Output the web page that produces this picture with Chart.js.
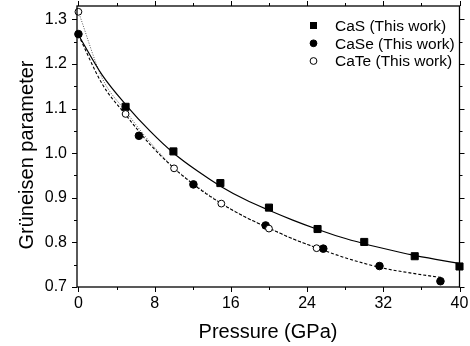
<!DOCTYPE html>
<html>
<head>
<meta charset="utf-8">
<script src="https://cdn.jsdelivr.net/npm/chart.js@4"></script>
<style>
  html, body { margin: 0; padding: 0; background: #fff; }
  canvas { display: block; }
</style>
</head>
<body>
<canvas id="chart" width="470" height="346"></canvas>
<script>
// measured points (pressure in GPa, Grüneisen parameter)
const casP = [4.95, 9.97, 14.9, 20.0, 25.1, 30.0, 35.3, 40.0];
const casG = [1.104, 1.004, 0.933, 0.878, 0.830, 0.801, 0.769, 0.746];
const caseP = [0, 6.35, 12.07, 19.65, 25.7, 31.6, 38.0];
const caseG = [1.267, 1.039, 0.930, 0.838, 0.786, 0.747, 0.713];
const cateP = [0, 4.95, 10.04, 15.0, 20.0, 25.0];
const cateG = [1.317, 1.088, 0.966, 0.887, 0.831, 0.787];

// fitted curves
const casFitP = [0, 2.5, 5, 7.5, 10, 12.5, 15, 17.5, 20, 22.5, 25, 27.5, 30, 32.5, 35, 37.5, 40];
const casFitG = [1.265, 1.175, 1.108, 1.050, 1.000, 0.960, 0.925, 0.896, 0.872, 0.850, 0.830, 0.812, 0.797, 0.784, 0.772, 0.762, 0.753];
const caseFitP = [0, 2.5, 5, 7.5, 10, 12.5, 15, 17.5, 20, 22.5, 25, 27.5, 30, 32.5, 35, 37.5, 38.2];
const caseFitG = [1.265, 1.155, 1.085, 1.020, 0.967, 0.923, 0.887, 0.857, 0.832, 0.808, 0.788, 0.769, 0.753, 0.740, 0.731, 0.723, 0.721];
const cateFitP = [0, 2.5, 5, 7.5, 10, 12.5, 15, 17.5, 20, 22.5, 25, 25.7];
const cateFitG = [1.317, 1.168, 1.093, 1.025, 0.968, 0.925, 0.888, 0.857, 0.832, 0.808, 0.788, 0.783];

const xTicks = [0, 8, 16, 24, 32, 40];
const yTicks = [0.7, 0.8, 0.9, 1.0, 1.1, 1.2, 1.3];
const legendNames = ["CaS (This work)", "CaSe (This work)", "CaTe (This work)"];

const FONT = "'Liberation Sans', Arial, sans-serif";
const pts = (xs, ys) => xs.map((x, i) => ({ x, y: ys[i] }));

const pointSet = (label, xs, ys, style, radius, fill, order) => ({
  label, data: pts(xs, ys), showLine: false, order, clip: false,
  pointStyle: style, pointRadius: radius, pointHoverRadius: radius,
  pointBackgroundColor: fill, pointBorderColor: '#000', pointBorderWidth: 1
});
const fitSet = (xs, ys, color, dash, width) => ({
  data: pts(xs, ys), showLine: true, order: 10, pointRadius: 0,
  borderColor: color, borderWidth: width, borderDash: dash,
  cubicInterpolationMode: 'monotone'
});

// frame, tick marks, axis titles, legend
const decor = {
  id: 'decor',
  afterDraw(chart) {
    const { ctx, chartArea: a, scales: { x, y } } = chart;
    ctx.save();
    ctx.strokeStyle = '#000';
    ctx.lineWidth = 1.3;
    ctx.strokeRect(a.left, a.top, a.right - a.left, a.bottom - a.top);
    ctx.lineWidth = 1;
    ctx.beginPath();
    for (let v = 0; v <= 40; v += 4) {
      const px = Math.round(x.getPixelForValue(v)) + 0.5;
      const len = v % 8 === 0 ? 5 : 3;
      ctx.moveTo(px, a.bottom); ctx.lineTo(px, a.bottom + len);
      ctx.moveTo(px, a.top); ctx.lineTo(px, a.top - len);
    }
    for (let k = 0; k <= 12; k++) {
      const py = Math.round(y.getPixelForValue(0.7 + k * 0.05)) + 0.5;
      const len = k % 2 === 0 ? 5 : 3;
      ctx.moveTo(a.left, py); ctx.lineTo(a.left - len, py);
      ctx.moveTo(a.right, py); ctx.lineTo(a.right + len, py);
    }
    ctx.stroke();

    ctx.fillStyle = '#000';
    ctx.font = `20px ${FONT}`;
    ctx.textAlign = 'center';
    ctx.textBaseline = 'alphabetic';
    ctx.fillText('Pressure (GPa)', 268, 338);
    ctx.save();
    ctx.translate(33, 155);
    ctx.rotate(-Math.PI / 2);
    ctx.fillText('Grüneisen parameter', 0, 0);
    ctx.restore();

    // legend
    const rows = [25.5, 43.3, 61];
    ctx.font = `15.5px ${FONT}`;
    ctx.textAlign = 'left';
    ctx.textBaseline = 'middle';
    rows.forEach((ry, i) => {
      ctx.fillStyle = '#000';
      ctx.fillText(legendNames[i], 335, ry + 1);
      ctx.beginPath();
      if (i === 0) {
        ctx.rect(310, ry - 3.5, 7, 7);
        ctx.fill();
      } else {
        ctx.arc(313.5, ry, 3.4, 0, Math.PI * 2);
        ctx.fillStyle = i === 1 ? '#000' : '#fff';
        ctx.fill();
        ctx.stroke();
      }
    });
    ctx.restore();
  }
};

new Chart(document.getElementById('chart'), {
  type: 'scatter',
  data: {
    datasets: [
      fitSet(casFitP, casFitG, '#000', [], 1.2),
      fitSet(caseFitP, caseFitG, '#000', [3, 2], 1.1),
      fitSet(cateFitP, cateFitG, '#555', [1, 1.5], 1),
      pointSet('CaS', casP, casG, 'rect', 5, '#000', 3),
      pointSet('CaSe', caseP, caseG, 'circle', 3.8, '#000', 2),
      pointSet('CaTe', cateP, cateG, 'circle', 3.4, '#fff', 1)
    ]
  },
  options: {
    responsive: false,
    animation: false,
    layout: { padding: { top: 5, right: 10.5, left: 0, bottom: 0 } },
    plugins: { legend: { display: false }, tooltip: { enabled: false } },
    scales: {
      x: {
        type: 'linear', min: -0.15, max: 40,
        grid: { display: false, drawTicks: false },
        border: { display: false },
        afterBuildTicks: (s) => { s.ticks = xTicks.map(v => ({ value: v })); },
        afterFit: (s) => { s.height = 59; s.paddingLeft = 0; s.paddingRight = 0; },
        ticks: { padding: 7, color: '#000', font: { family: FONT, size: 16 }, maxRotation: 0 }
      },
      y: {
        type: 'linear', min: 0.7, max: 1.33,
        grid: { display: false, drawTicks: false },
        border: { display: false },
        afterBuildTicks: (s) => { s.ticks = yTicks.map(v => ({ value: v })); },
        afterFit: (s) => { s.width = 77; s.paddingTop = 0; s.paddingBottom = 0; },
        ticks: { padding: 10, color: '#000', font: { family: FONT, size: 16 },
                 callback: (v) => Number(v).toFixed(1) }
      }
    }
  },
  plugins: [decor]
});
</script>
</body>
</html>
